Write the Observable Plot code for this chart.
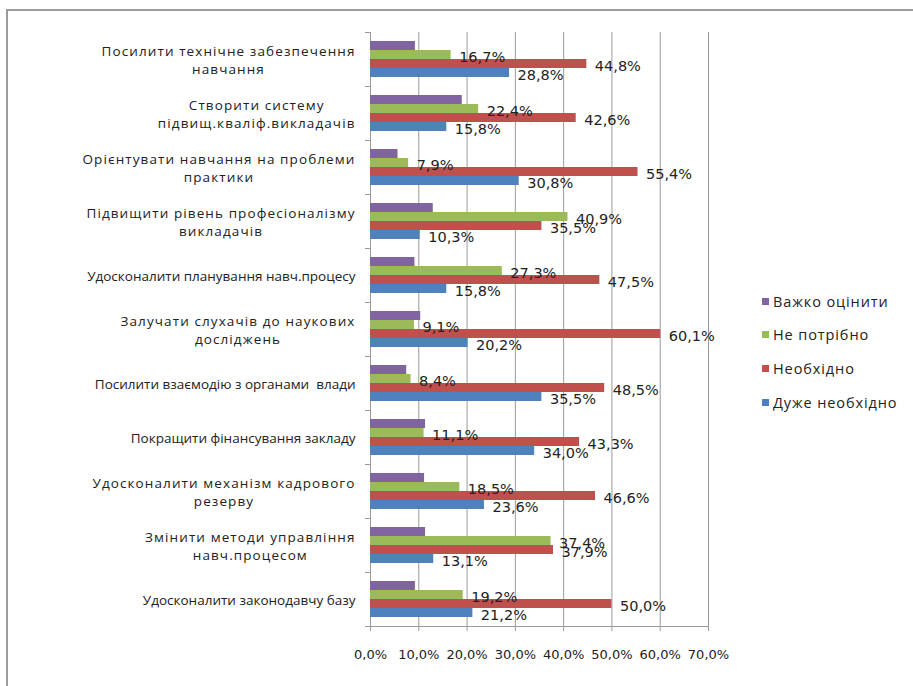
<!DOCTYPE html>
<html>
<head>
<meta charset="utf-8">
<script src="https://cdn.jsdelivr.net/npm/d3@7"></script>
<script src="https://cdn.jsdelivr.net/npm/@observablehq/plot@0.6"></script>
<style>
  html, body { margin: 0; padding: 0; background: #fff; }
  body { width: 913px; height: 686px; overflow: hidden; position: relative; font-family: "Open Sans", sans-serif; }
  #frame { position: absolute; left: 6px; top: 9px; width: 940px; height: 720px; border-top: 2px solid #9c9c9c; border-left: 2px solid #9c9c9c; }
  #chart { position: absolute; left: 0; top: 0; }
  #legend { position: absolute; left: 762px; top: 291px; font-size: 14.5px; letter-spacing: 0.9px; color: #222; }
  #legend .item { height: 20px; margin-bottom: 13.7px; display: flex; align-items: center; white-space: nowrap; }
  #legend .sw { width: 7px; height: 7px; margin-right: 4px; }
  .num text { font-family: "DejaVu Sans", sans-serif; }
</style>
</head>
<body>
<div id="frame"></div>
<div id="chart"></div>
<div id="legend"></div>
<script>
const categories = [
  "Посилити технічне забезпечення навчання",
  "Створити систему підвищ.кваліф.викладачів",
  "Орієнтувати навчання на проблеми практики",
  "Підвищити рівень професіоналізму викладачів",
  "Удосконалити планування навч.процесу",
  "Залучати слухачів до наукових досліджень",
  "Посилити взаємодію з органами  влади",
  "Покращити фінансування закладу",
  "Удосконалити механізм кадрового резерву",
  "Змінити методи управління навч.процесом",
  "Удосконалити законодавчу базу"
];
const tickLabels = [
  "Посилити технічне забезпечення\nнавчання",
  "Створити систему\nпідвищ.кваліф.викладачів",
  "Орієнтувати навчання на проблеми\nпрактики",
  "Підвищити рівень професіоналізму\nвикладачів",
  "Удосконалити планування навч.процесу",
  "Залучати слухачів до наукових\nдосліджень",
  "Посилити взаємодію з органами  влади",
  "Покращити фінансування закладу",
  "Удосконалити механізм кадрового\nрезерву",
  "Змінити методи управління\nнавч.процесом",
  "Удосконалити законодавчу базу"
];
const series = ["Важко оцінити", "Не потрібно", "Необхідно", "Дуже необхідно"];
const colors = ["#8064A2", "#9BBB59", "#C0504D", "#4F81BD"];
const hardToSay  = [9.3, 19.0, 5.7, 13.0, 9.2, 10.4, 7.5, 11.4, 11.2, 11.4, 9.3];
const notNeeded  = [16.7, 22.4, 7.9, 40.9, 27.3, 9.1, 8.4, 11.1, 18.5, 37.4, 19.2];
const needed     = [44.8, 42.6, 55.4, 35.5, 47.5, 60.1, 48.5, 43.3, 46.6, 37.9, 50.0];
const veryNeeded = [28.8, 15.8, 30.8, 10.3, 15.8, 20.2, 35.5, 34.0, 23.6, 13.1, 21.2];
const labelled = [false, true, true, true];
const xTicks = [0, 10, 20, 30, 40, 50, 60, 70];

const values = [hardToSay, notNeeded, needed, veryNeeded];
const data = categories.flatMap((c, i) => series.map((s, j) => ({category: c, series: s, value: values[j][i], labelled: labelled[j]})));
const fmt = d => d.toFixed(1).replace(".", ",") + "%";
const gray = "#9a9a9a";

const chart = Plot.plot({
  width: 913,
  height: 686,
  marginLeft: 370,
  marginRight: 205,
  marginTop: 30,
  marginBottom: 58,
  style: {fontFamily: "'Open Sans', sans-serif", fontSize: "13.5px", color: "#222", background: "transparent"},
  x: {domain: [0, 70]},
  y: {domain: series, paddingInner: 0, paddingOuter: 0.72, axis: null},
  fy: {domain: categories, padding: 0},
  color: {domain: series, range: colors},
  marks: [
    Plot.gridX(xTicks.filter(d => d > 0), {stroke: gray, strokeOpacity: 1}),
    Plot.frame({anchor: "left", stroke: gray}),
    Plot.frame({anchor: "top", stroke: gray, insetLeft: -5, insetRight: 338}),
    Plot.frame({anchor: "bottom", facetAnchor: "bottom", stroke: gray}),
    Plot.frame({anchor: "bottom", facetAnchor: "bottom", stroke: gray, insetLeft: -5, insetRight: 338}),
    Plot.barX(data, {x: "value", y: "series", fy: "category", fill: "series"}),
    Plot.text(data.filter(d => d.labelled), {x: "value", y: "series", fy: "category", text: d => fmt(d.value), textAnchor: "start", dx: 8, dy: 2, fill: "#222", fontSize: 14.5, className: "num"}),
    Plot.axisX({ticks: xTicks, tickFormat: fmt, tickSize: 5, tickPadding: 18, stroke: gray, fill: "#222", label: null, fontSize: 13, className: "num"}),
    Plot.axisFy({anchor: "left", tickSize: 0, tickPadding: 15, tickFormat: d => tickLabels[categories.indexOf(d)], label: null, lineHeight: 1.3, textOverflow: null, fill: "#222"})
  ]
});
document.getElementById("chart").append(chart);

// wrapped category labels: slightly wider tracking, lines centred inside a right-aligned block
chart.querySelectorAll('g[aria-label="fy-axis tick label"] text').forEach(t => {
  const spans = t.querySelectorAll("tspan");
  if (spans.length < 2) return;
  t.setAttribute("letter-spacing", "1.1");
  const w = t.getBBox().width;
  t.setAttribute("text-anchor", "middle");
  spans.forEach(s => {
    const x0 = parseFloat(s.getAttribute("x") || 0);
    s.setAttribute("x", x0 - w / 2);
  });
});

const legend = document.getElementById("legend");
series.forEach((s, i) => {
  const item = document.createElement("div");
  item.className = "item";
  const sw = document.createElement("span");
  sw.className = "sw";
  sw.style.background = colors[i];
  const tx = document.createElement("span");
  tx.textContent = s;
  item.append(sw, tx);
  legend.append(item);
});
</script>
</body>
</html>
